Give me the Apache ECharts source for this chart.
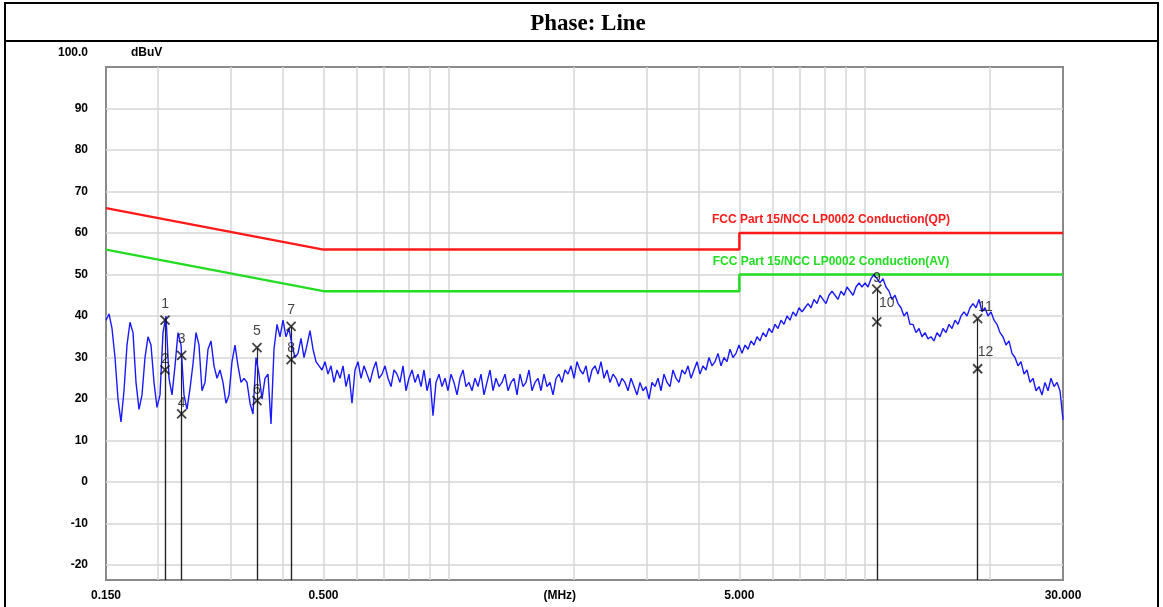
<!DOCTYPE html>
<html><head><meta charset="utf-8">
<script src="https://cdn.jsdelivr.net/npm/echarts@6/dist/echarts.min.js"></script>
<style>html,body{margin:0;padding:0;background:#fff}#c{width:1163px;height:607px}</style>
</head><body><div id="c"></div>
<script>
const title = "Phase: Line";
const yTicks = [-20,-10,0,10,20,30,40,50,60,70,80,90];
const xGridFreqs = [0.2,0.3,0.4,0.5,0.6,0.7,0.8,0.9,1,2,3,4,5,6,7,8,9,10,20];
const xLabelFreqs = [0.15,0.5,1.85,5,30];
const xLabelTexts = ["0.150","0.500","(MHz)","5.000","30.000"];
const qpLimit = [[0.15,66],[0.5,56],[5,56],[5,60],[30,60]];
const avLimit = [[0.15,56],[0.5,46],[5,46],[5,50],[30,50]];
const qpName = "FCC Part 15/NCC LP0002 Conduction(QP)";
const avName = "FCC Part 15/NCC LP0002 Conduction(AV)";
const markerIds = ["1","2","3","4","5","6","7","8","9","10","11","12"];
const markerFreqs = [0.208,0.208,0.228,0.228,0.346,0.346,0.418,0.418,10.7,10.7,18.7,18.7];
const markerLevels = [39,27,30.5,16.4,32.4,19.6,37.5,29.5,46.5,38.6,39.4,27.3];
const traceLevels = [
39,40.5,37,30,20,14.5,22,33,38.5,36,
24,17.5,21,30,35,33,24,18,21,36,
40,25,21,28,36,33,21,17.5,22.5,28.5,
36,33,22,24,32,34,28,25,27,24,
19,21,29,33,28,24,25,24,19,16.4,
30,26,20,25,26,14,32,38,35,39,
35,37,33,30,31,34.6,30,33,36.5,32,
29,28,27,
29,26,28,24,27,25,28,23,26,19,
27,29,25,28,26,24,27,29,25,26,
28,25,23,27,26,24,28,22,25,27,
24,26,23,27,22,25,16,24,26,23,
25,22,26,24,21,25,27,23,24,22,
25,23,26,21,24,27,22,25,23,24,
26,22,24,25,21,26,23,24,27,22,
24,25,22,26,23,24,21,25,26,24,
27,26,28,25,29,27,26,28,24,27,
28,26,29,25,27,24,26,25,23,25,
24,22,25,23,21,24,22,23,20,24,
23,25,22,26,24,23,27,25,24,27,
26,28,25,27,29,26,28,27,30,28,
29,31,28,30,29,32,30,31,33,31,
33,32,34,33,35,34,36,35,37,36,
38,37,39,38,40,39,41,40,42,41,
42,43,42,44,43,45,44,43,45,46,
45,44,46,45,47,46,45,47,48,47,
48,47,49,50,49,48,49,47,46,44,
45,43,42,40,41,38,38,36,37,35,
36,34.5,35,34,36,35,37,36,38,37,
39,38,40,41,40,42,43,42,44,41,
42,40,41,39,38,36,35,33,34,31,
30,28,29,26,27,24,25,22,23,21,
24,22,25,23,24,22,15];
const F0 = 0.15, F1 = 30, YMIN = -23.6, YMAX = 100;
const nT = traceLevels.length;
const trace = traceLevels.map((v,i)=>[F0*Math.pow(F1/F0, i/(nT-1)), v]);
const markerData = markerFreqs.map((f,i)=>[f, markerLevels[i]]);
const labelOffsets = [[0,-1],[0,4],[0,-1],[0,4],[0,-1],[0,4],[0,-1],[0,4],[0,4],[10,-4],[8,4],[8,-2]];
const xPath = 'path://M0,0L10,10M10,0L0,10';

const gridLines = [];
xGridFreqs.forEach(f=>gridLines.push({xAxis:f}));
yTicks.forEach(v=>gridLines.push({yAxis:v}));
const stems = markerData.map(d=>[{coord:[d[0],d[1]]},{coord:[d[0],YMIN]}]);

const chart = echarts.init(document.getElementById('c'));
const bold = {fontFamily:'Arial, Liberation Sans', fontWeight:'bold', fontSize:12, color:'#000'};
chart.setOption({
  animation:false,
  grid:{left:106,right:100,top:67,bottom:27,show:true,borderColor:'#8a8a8a',borderWidth:2,backgroundColor:'#fff'},
  xAxis:{type:'log',logBase:10,min:F0,max:F1,
    axisLine:{show:false},axisTick:{show:false},splitLine:{show:false},minorSplitLine:{show:false},
    axisLabel:Object.assign({customValues:xLabelFreqs,margin:10,showMinLabel:true,showMaxLabel:true,
      formatter:(v)=>{let k=xLabelFreqs.findIndex(f=>Math.abs(f-v)/f<0.01);return k>=0?xLabelTexts[k]:'';}},bold)},
  yAxis:{type:'value',min:YMIN,max:YMAX,
    axisLine:{show:false},axisTick:{show:false},splitLine:{show:false},
    axisLabel:Object.assign({customValues:yTicks,margin:18},bold)},
  graphic:[
    {type:'rect',shape:{x:5,y:3,width:1153,height:610},style:{fill:'none',stroke:'#000',lineWidth:2}},
    {type:'line',shape:{x1:5,y1:41,x2:1158,y2:41},style:{stroke:'#000',lineWidth:2}},
    {type:'text',x:588,y:24,style:{text:title,font:'bold 23px "Liberation Serif", "Times New Roman", serif',fill:'#000',align:'center',verticalAlign:'middle'}},
    {type:'text',x:88,y:53,style:{text:'100.0',font:'bold 12px Arial, "Liberation Sans"',fill:'#000',align:'right',verticalAlign:'middle'}},
    {type:'text',x:131,y:53,style:{text:'dBuV',font:'bold 12px Arial, "Liberation Sans"',fill:'#000',align:'left',verticalAlign:'middle'}}
  ],
  series:[
    {type:'line',data:[],silent:true,z:1,zlevel:0,markLine:{silent:true,z:1,symbol:'none',label:{show:false},lineStyle:{color:'#d6d6d6',width:1.5,type:'solid'},data:gridLines}},
    {type:'line',data:qpLimit,showSymbol:false,lineStyle:{color:'#ff1a1a',width:2.5},z:10,
      markPoint:{symbol:'circle',symbolSize:0,data:[{coord:[8.3,63.3],label:{show:true,formatter:qpName,color:'#ff1a1a',fontFamily:'Arial, Liberation Sans',fontWeight:'bold',fontSize:12}}]}},
    {type:'line',data:avLimit,showSymbol:false,lineStyle:{color:'#22dd22',width:2.5},z:10,
      markPoint:{symbol:'circle',symbolSize:0,data:[{coord:[8.3,53],label:{show:true,formatter:avName,color:'#22dd22',fontFamily:'Arial, Liberation Sans',fontWeight:'bold',fontSize:12}}]}},
    {type:'line',data:trace,showSymbol:false,lineStyle:{color:'#1a1aff',width:1.4},z:11},
    {type:'scatter',data:markerData,symbol:xPath,symbolSize:9,z:12,
      itemStyle:{color:'none',borderColor:'#111',borderWidth:1.8},
      label:{show:true,position:'top',distance:1,color:'#111',fontFamily:'Arial, Liberation Sans',fontSize:14,
        formatter:(p)=>markerIds[p.dataIndex]},
      labelLayout:(p)=>({dx:labelOffsets[p.dataIndex][0],dy:labelOffsets[p.dataIndex][1]}),
      markLine:{silent:true,symbol:'none',label:{show:false},lineStyle:{color:'#222',width:1.2,type:'solid'},data:stems}}
  ]
});
</script></body></html>
